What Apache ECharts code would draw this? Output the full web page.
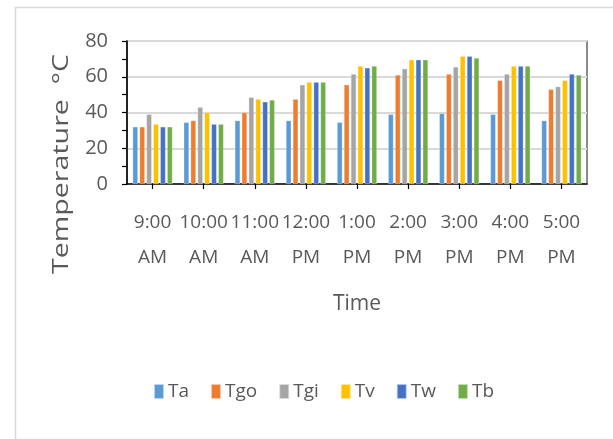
<!DOCTYPE html>
<html>
<head>
<meta charset="utf-8">
<script src="https://cdn.jsdelivr.net/npm/echarts@6/dist/echarts.min.js"></script>
<style>html,body{margin:0;padding:0;background:#fff}#c{width:613px;height:439px}</style>
</head>
<body>
<div id="c"></div>
<script>
const categories = ['9:00\nAM','10:00\nAM','11:00\nAM','12:00\nPM','1:00\nPM','2:00\nPM','3:00\nPM','4:00\nPM','5:00\nPM'];
const seriesNames = ['Ta','Tgo','Tgi','Tv','Tw','Tb'];
const Ta  = [32, 34.5, 35.5, 35.5, 34.5, 39, 39.5, 39, 35.5];
const Tgo = [32, 35.5, 40, 47.5, 55.5, 61, 61.5, 58, 53];
const Tgi = [39, 43, 48.5, 55.5, 61.5, 64.5, 65.5, 61.5, 54.5];
const Tv  = [33.5, 40, 47.5, 57, 66, 69.5, 71.5, 66, 58];
const Tw  = [32, 33.5, 46, 57, 65, 69.5, 71.5, 66, 61.5];
const Tb  = [32, 33.5, 47, 57, 66, 69.5, 70.5, 66, 61];
const yTicks = [0, 20, 40, 60, 80];
const yTitle = 'Temperature  °C';
const xTitle = 'Time';

const seriesData = [Ta, Tgo, Tgi, Tv, Tw, Tb];
const colors = ['#5B9BD5','#ED7D31','#A5A5A5','#FFC000','#4472C4','#70AD47'];
const txt = '#595959';
const font = 'Open Sans';

const chart = echarts.init(document.getElementById('c'), null, {renderer: 'canvas'});
chart.setOption({
  animation: false,
  color: colors,
  textStyle: {fontFamily: font},
  graphic: [{
    type: 'rect', left: 13, top: 5, silent: true,
    shape: {x: 0, y: 0, width: 640, height: 432},
    style: {fill: 'none', stroke: '#d9d9d9', lineWidth: 1.5}
  }, {
    type: 'text', x: 62, y: 164, rotation: Math.PI / 2, scaleX: 1.3, silent: true,
    style: {text: yTitle, fill: txt, fontSize: 22, fontFamily: font, align: 'center', verticalAlign: 'middle'}
  }],
  grid: {left: 127, right: 26, top: 41, bottom: 255, show: true, borderColor: '#404040', borderWidth: 1.2, containLabel: false},
  legend: {
    data: seriesNames, left: 148, top: 377, itemWidth: 10, itemHeight: 15, itemGap: 21,
    icon: 'rect',
    textStyle: {color: txt, fontSize: 19, fontFamily: font, padding: [0, 0, 0, -1]}
  },
  xAxis: {
    type: 'category', data: categories,
    name: xTitle, nameLocation: 'middle', nameGap: 110,
    nameTextStyle: {color: txt, fontSize: 21, fontFamily: font},
    axisLine: {lineStyle: {color: '#000', width: 1.5}},
    axisTick: {show: true, alignWithLabel: true, length: 5, lineStyle: {color: '#000', width: 1.2}},
    axisLabel: {interval: 0, color: txt, fontSize: 19, lineHeight: 35, margin: 21, fontFamily: font}
  },
  yAxis: {
    type: 'value', min: yTicks[0], max: yTicks[yTicks.length - 1], interval: 20,
    axisLine: {show: true, lineStyle: {color: '#000', width: 1.5}},
    axisTick: {show: true, length: 5, lineStyle: {color: '#000', width: 1.2}},
    minorTick: {show: true, splitNumber: 2, length: 5, lineStyle: {color: '#000', width: 1.2}},
    axisLabel: {color: txt, fontSize: 20, margin: 19, fontFamily: font},
    splitLine: {show: true, lineStyle: {color: '#d9d9d9', width: 2}}
  },
  series: seriesNames.map((n, i) => ({
    name: n, type: 'bar', data: seriesData[i],
    barCategoryGap: '22%', barGap: '30%',
    itemStyle: {borderColor: 'rgba(255,255,255,0.6)', borderWidth: 0.5}
  }))
});
</script>
</body>
</html>
